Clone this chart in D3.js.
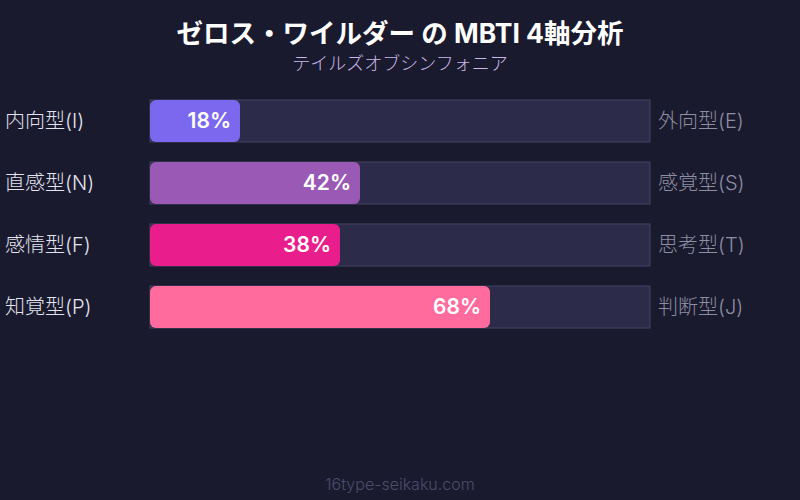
<!DOCTYPE html>
<html>
<head>
<meta charset="utf-8">
<script src="https://cdn.jsdelivr.net/npm/d3@7"></script>
<style>
  body { margin: 0; background: #1a1a2e; }
  svg { display: block; font-family: Inter, "Noto Sans CJK JP", sans-serif; }
</style>
</head>
<body>
<div id="chart"></div>
<script>
// MBTI axes
const leftLabels = ["内向型(I)", "直感型(N)", "感情型(F)", "知覚型(P)"];
const rightLabels = ["外向型(E)", "感覚型(S)", "思考型(T)", "判断型(J)"];
const values = [18, 42, 38, 68];
const colors = ["#7b68ee", "#9b59b6", "#e91e8c", "#ff6b9d"];

const width = 800;
const height = 500;

const svg = d3.select("#chart")
  .append("svg")
  .attr("width", width)
  .attr("height", height);

svg.append("rect")
  .attr("width", width)
  .attr("height", height)
  .attr("fill", "#1a1a2e");

svg.append("text")
  .attr("x", width / 2)
  .attr("y", 43)
  .attr("text-anchor", "middle")
  .attr("fill", "#ffffff")
  .attr("font-size", 26.5)
  .attr("font-weight", "bold")
  .text("ゼロス・ワイルダー の MBTI 4軸分析");

svg.append("text")
  .attr("x", width / 2)
  .attr("y", 70)
  .attr("text-anchor", "middle")
  .attr("fill", "#c9b8e6")
  .attr("font-size", 18)
  .attr("font-weight", 300)
  .text("テイルズオブシンフォニア");

const x = d3.scaleLinear()
  .domain([0, 100])
  .range([150, 650]);

// step 62, bar 42
const y = d3.scaleBand()
  .domain(d3.range(values.length))
  .range([100, 328])
  .paddingInner(20 / 62);

const rows = svg.selectAll("g.row")
  .data(values)
  .enter().append("g")
  .attr("class", "row");

rows.append("rect")
  .attr("x", x(0))
  .attr("y", (d, i) => y(i))
  .attr("width", x(100) - x(0))
  .attr("height", y.bandwidth())
  .attr("fill", "#2d2b4a")
  .attr("stroke", "#44435f")
  .attr("stroke-width", 1);

rows.append("rect")
  .attr("x", x(0))
  .attr("y", (d, i) => y(i))
  .attr("width", d => x(d) - x(0))
  .attr("height", y.bandwidth())
  .attr("rx", 6)
  .attr("fill", (d, i) => colors[i]);

rows.append("text")
  .attr("x", d => x(d) - 9)
  .attr("y", (d, i) => y(i) + y.bandwidth() / 2)
  .attr("dy", "0.35em")
  .attr("text-anchor", "end")
  .attr("fill", "#ffffff")
  .attr("font-size", 21)
  .attr("font-weight", 600)
  .text(d => d + "%");

rows.append("text")
  .attr("x", 5)
  .attr("y", (d, i) => y(i) + y.bandwidth() / 2)
  .attr("dy", "0.33em")
  .attr("fill", "#e4e4f0")
  .attr("font-size", 20)
  .attr("font-weight", 300)
  .text((d, i) => leftLabels[i]);

rows.append("text")
  .attr("x", 658)
  .attr("y", (d, i) => y(i) + y.bandwidth() / 2)
  .attr("dy", "0.33em")
  .attr("fill", "#8e8ea2")
  .attr("font-size", 20)
  .attr("font-weight", 300)
  .text((d, i) => rightLabels[i]);

svg.append("text")
  .attr("x", width / 2)
  .attr("y", 490)
  .attr("text-anchor", "middle")
  .attr("fill", "#4c4c6c")
  .attr("font-size", 16)
  .attr("font-weight", 300)
  .text("16type-seikaku.com");
</script>
</body>
</html>
